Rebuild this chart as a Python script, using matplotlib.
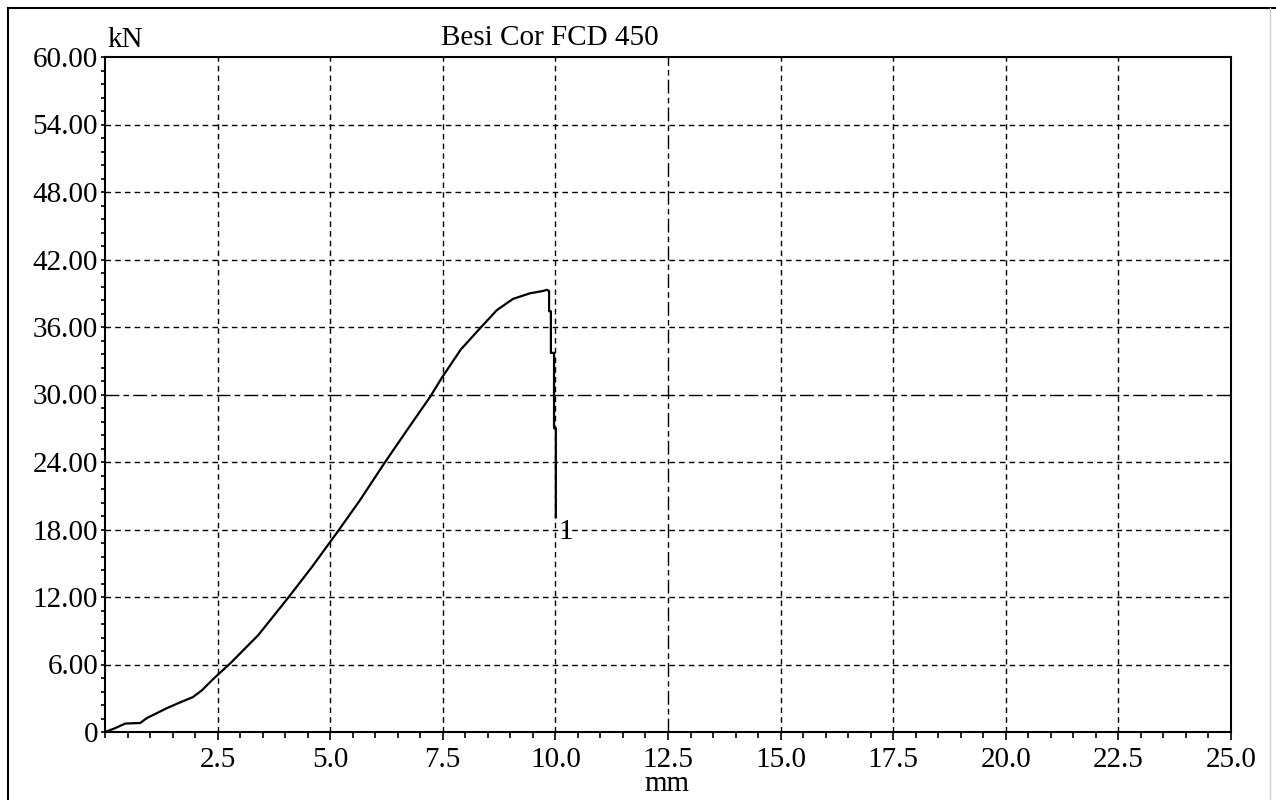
import matplotlib
matplotlib.use("Agg")
import matplotlib.pyplot as plt
from matplotlib.lines import Line2D
from matplotlib.ticker import MultipleLocator, FixedLocator

# displacement (mm) vs load (kN)
disp = [0.0, 0.2, 0.45, 0.78, 0.93, 1.38, 1.65, 1.95, 2.15, 2.4, 2.78, 3.4, 4.06, 4.6, 5.2,
        5.66, 6.22, 6.7, 7.22, 7.48, 7.9, 8.33, 8.70, 9.06, 9.44, 9.72, 9.81,
        9.86, 9.86, 9.90, 9.90, 9.97, 9.97, 10.01, 10.01]
load = [0.0, 0.3, 0.75, 0.8, 1.24, 2.13, 2.6, 3.1, 3.7, 4.7, 6.1, 8.6, 11.9, 14.7, 18.0,
        20.6, 24.0, 26.8, 29.8, 31.5, 34.0, 35.9, 37.5, 38.5, 39.0, 39.2, 39.3,
        39.2, 37.4, 37.4, 33.7, 33.7, 27.0, 27.0, 19.1]

x_major = [2.5, 5.0, 7.5, 10.0, 12.5, 15.0, 17.5, 20.0, 22.5, 25.0]
y_major = [0, 6, 12, 18, 24, 30, 36, 42, 48, 54, 60]

title = "Besi Cor FCD 450"
y_unit = "kN"
x_unit = "mm"
break_label = "1"

plt.rcParams['font.family'] = ['Liberation Serif', 'DejaVu Serif']
fs = 21

fig = plt.figure(figsize=(12.76, 8), dpi=100)
ax = fig.add_axes([0.0823, 0.085, 0.8824, 0.84375])

ax.set_xlim(0, 25)
ax.set_ylim(0, 60)

# grid lines, middle ones dash-dot
for xv in x_major[:-1]:
    if xv == 12.5:
        ax.axvline(xv, color='black', lw=1.0, dashes=(10, 3, 4, 3))
    else:
        ax.axvline(xv, color='black', lw=1.0, dashes=(4, 3))
for yv in y_major[1:-1]:
    if yv == 30:
        ax.axhline(yv, color='black', lw=1.0, dashes=(10, 3, 4, 3))
    else:
        ax.axhline(yv, color='black', lw=1.0, dashes=(4, 3))

ax.plot(disp, load, color='black', lw=1.6)
ax.text(disp[-1] + 0.05, load[-1] - 0.2, break_label, fontsize=fs, va='top', ha='left')

ax.xaxis.set_major_locator(FixedLocator(x_major))
ax.xaxis.set_minor_locator(MultipleLocator(0.5))
ax.yaxis.set_major_locator(FixedLocator(y_major))
ax.yaxis.set_minor_locator(MultipleLocator(1.2))
ax.set_xticklabels(["%.1f" % v for v in x_major])
ax.set_yticklabels(["0" if v == 0 else "%.2f" % v for v in y_major])

ax.tick_params(axis='both', which='both', direction='out', width=1.2, colors='black', labelsize=fs)
ax.tick_params(axis='x', which='major', length=6, pad=5)
ax.tick_params(axis='x', which='minor', length=4)
ax.tick_params(axis='y', which='major', length=3, pad=2)
ax.tick_params(axis='y', which='minor', length=3)
for s in ax.spines.values():
    s.set_linewidth(1.5)

fig.text(0.084, 0.941, y_unit, fontsize=fs, va='baseline', ha='left')
fig.text(0.523, 0.011, x_unit, fontsize=fs, va='baseline', ha='center')
fig.text(0.431, 0.944, title, fontsize=fs, va='baseline', ha='center')

# outer frame
fig.add_artist(Line2D([0.0063, 0.0063], [0, 0.99], transform=fig.transFigure, color='black', lw=1.5))
fig.add_artist(Line2D([0.0063, 1.0], [0.99, 0.99], transform=fig.transFigure, color='black', lw=1.5))
fig.add_artist(Line2D([0.995, 0.995], [0, 0.99], transform=fig.transFigure, color='#cccccc', lw=1.0))

fig.savefig("out.png", dpi=100)
